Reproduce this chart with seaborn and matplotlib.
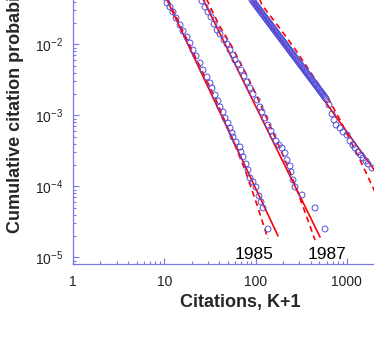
import matplotlib
matplotlib.use('Agg')
import matplotlib.pyplot as plt
import seaborn as sns
from matplotlib.ticker import FuncFormatter, LogLocator, NullFormatter, FixedLocator

# citation data (K+1, cumulative probability)
a_k = [9.92, 10.71, 11.55, 12.45, 13.44, 14.86, 16.03, 17.73, 19.12, 20.63, 22.25, 24.60, 26.54,
       29.36, 31.66, 33.31, 35.93, 38.74, 40.74, 43.96, 46.22, 49.86, 52.44, 55.15, 56.56,
       61.00, 67.47, 69.20, 72.78, 78.51, 82.57, 86.83, 93.64, 101.0, 108.9, 114.6, 120.5, 136.7]
a_p = [0.0464, 0.03817, 0.03352, 0.02850, 0.02346, 0.01869, 0.01539, 0.01267, 0.01043, 0.008313,
       0.006842, 0.005452, 0.004345, 0.003462, 0.002851, 0.002424, 0.001932, 0.001590, 0.001309,
       0.001113, 0.000916, 0.000779, 0.000662, 0.000563, 0.000495, 0.000421, 0.000358, 0.000304,
       0.000259, 0.000206, 0.000170, 0.000131, 0.000115, 9.77e-5, 7.30e-5, 6.01e-5, 4.95e-5, 2.50e-5]

b_k = [25.87, 27.91, 30.10, 32.47, 35.03, 37.78, 40.74, 45.07, 48.62, 52.44, 56.56, 59.48, 64.16,
       69.20, 74.65, 80.52, 86.83, 93.64, 103.6, 111.7, 117.5, 126.8, 136.7, 147.5, 155.1, 167.3,
       180.4, 194.6, 209.9, 220.8, 238.2, 244.2, 256.8, 270.1, 322.3, 447.4, 575.6]
b_p = [0.04073, 0.03352, 0.02850, 0.02424, 0.01931, 0.01590, 0.01397, 0.01150, 0.01010, 0.008313,
       0.007066, 0.006009, 0.005279, 0.004345, 0.003576, 0.002944, 0.002424, 0.001995, 0.001642,
       0.001309, 0.001113, 0.000916, 0.000730, 0.000601, 0.000511, 0.000434, 0.000382, 0.000346,
       0.000294, 0.000235, 0.000193, 0.000159, 0.000123, 9.77e-5, 7.54e-5, 4.95e-5, 2.50e-5]

c_k = [86.8, 91.3, 96.1, 101.0, 106.2, 111.7, 117.5, 123.6, 130.0, 136.7, 143.8, 151.2, 159.0,
       167.3, 175.9, 185.1, 194.6, 204.7, 215.3, 226.4, 238.2, 250.5, 263.4, 277.1, 291.4, 306.5,
       322.3, 338.9, 356.5, 374.9, 394.3, 414.7, 436.2, 458.7, 482.5, 507.5, 533.7, 561.3, 590.4,
       636.8, 686.9, 722.4, 759.7, 840.4, 906.7, 1002.6, 1081.4, 1166.6, 1226.7, 1323.0, 1427.0,
       1500.8, 1619.0, 1702.3, 1883.0]
c_p = [0.0464, 0.04206, 0.03853, 0.03542, 0.03245, 0.02973, 0.02733, 0.02504, 0.02294, 0.02108,
       0.01931, 0.01769, 0.01626, 0.01490, 0.01365, 0.01255, 0.01150, 0.01053, 0.009681, 0.008869,
       0.008126, 0.007467, 0.006842, 0.006268, 0.005762, 0.005279, 0.004836, 0.004445, 0.004073,
       0.003731, 0.003429, 0.003142, 0.002878, 0.002646, 0.002424, 0.002221, 0.002041, 0.001870,
       0.001713, 0.001397, 0.001043, 0.000859, 0.000730, 0.000662, 0.000582, 0.000528, 0.000434,
       0.000382, 0.000346, 0.000304, 0.000276, 0.000250, 0.000227, 0.000206, 0.000181]
# the third set is very dense at the top: more of its points
c2_k = [93.64, 98.50, 103.6, 108.9, 114.6, 120.5, 126.8, 133.3, 140.2, 147.5, 155.1, 163.1, 171.5,
        180.4, 189.7, 199.6, 209.9, 220.8, 232.2, 244.2, 256.8, 270.1, 284.0, 298.8, 314.3, 330.5,
        347.6, 365.6, 384.5, 404.4, 425.3, 447.4, 470.6, 494.9, 520.5, 547.3, 575.6]
c2_p = [0.04028, 0.03694, 0.03388, 0.03109, 0.02850, 0.02615, 0.02398, 0.02199, 0.02017, 0.01849,
        0.01697, 0.01556, 0.01427, 0.01309, 0.01200, 0.01101, 0.01010, 0.009261, 0.008497,
        0.007789, 0.007145, 0.006553, 0.006009, 0.005510, 0.005054, 0.004637, 0.004251, 0.003900,
        0.003576, 0.003280, 0.003010, 0.002759, 0.002530, 0.002321, 0.002129, 0.001953, 0.001791]

# power-law fits (solid) and fits with cutoff (dashed)
a_fit_k = [8.97, 175.9]
a_fit_p = [0.0684, 2.0e-5]
a_cut_k = [8.97, 10.98, 20.11, 36.85, 55.15, 76.55, 103.6, 136.7]
a_cut_p = [0.0730, 0.0421, 0.00831, 0.00164, 0.000479, 0.000170, 5.45e-5, 1.81e-5]

b_fit_k = [22.25, 507.5]
b_fit_p = [0.0684, 1.93e-5]
b_cut_k = [23.99, 29.36, 39.72, 53.78, 72.78, 93.64, 120.5, 147.5, 209.9, 284.0, 447.4]
b_cut_p = [0.0684, 0.0421, 0.01869, 0.00977, 0.004637, 0.002424, 0.001187, 0.000662,
           0.000235, 8.87e-5, 1.75e-5]

c_fit_k = [76.55, 2615]
c_fit_p = [0.0582, 1.043e-4]
c_cut_k = [98.5, 117.5, 163.1, 220.8, 284.0, 365.6, 470.6, 620.9, 840.4, 1081, 1392, 1702, 1981, 2423]
c_cut_p = [0.0621, 0.03576, 0.02061, 0.01227, 0.00779, 0.00479, 0.002944, 0.001752, 0.000859,
           0.000449, 0.000235, 0.000135, 8.87e-5, 5.28e-5]

year_labels = ['1985', '1987']
year_k = [97.3, 597.9]
year_p = [9.46e-6, 9.46e-6]

sns.set_style('white')
plt.rcParams['font.family'] = ['Liberation Sans', 'DejaVu Sans']
plt.rcParams['axes.unicode_minus'] = False
plt.rcParams['mathtext.default'] = 'regular'

axis_col = '#7878e8'
dot_col = '#5050dc'
fit_col = '#ff0000'

fig = plt.figure(figsize=(3.74, 3.48), dpi=100)
ax = fig.add_axes([0.1952, 0.2405, 0.8545, 1.0402])
ax.set_xscale('log')
ax.set_yscale('log')

for fk, fp, ck, cp in [(a_fit_k, a_fit_p, a_cut_k, a_cut_p),
                       (b_fit_k, b_fit_p, b_cut_k, b_cut_p),
                       (c_fit_k, c_fit_p, c_cut_k, c_cut_p)]:
    sns.lineplot(x=fk, y=fp, ax=ax, color=fit_col, lw=1.2, estimator=None, sort=False, zorder=2)
    sns.lineplot(x=ck, y=cp, ax=ax, color=fit_col, lw=1.2, estimator=None, sort=False,
                 zorder=2).lines[-1].set_dashes((3.5, 2.5))

for k, p in [(a_k, a_p), (b_k, b_p), (c_k, c_p), (c2_k, c2_p)]:
    sns.scatterplot(x=k, y=p, ax=ax, marker='o', s=18, facecolors='none',
                    edgecolors=dot_col, linewidths=0.7, zorder=3)

for lab, k, p in zip(year_labels, year_k, year_p):
    ax.text(k, p, lab, ha='center', va='baseline', fontsize=12.5, color='black')

ax.set_xlim(1, 3162.3)
ax.set_ylim(7.96e-6, 1)

for side in ['top', 'right']:
    ax.spines[side].set_visible(False)
for side in ['left', 'bottom']:
    ax.spines[side].set_color(axis_col)
    ax.spines[side].set_linewidth(0.9)

ax.xaxis.set_major_locator(FixedLocator([1, 10, 100, 1000]))
ax.xaxis.set_minor_locator(LogLocator(base=10, subs=range(2, 10), numticks=20))
ax.xaxis.set_major_formatter(FuncFormatter(lambda v, _: f'{v:g}'))
ax.xaxis.set_minor_formatter(NullFormatter())
ax.yaxis.set_major_locator(FixedLocator([1e-5, 1e-4, 1e-3, 1e-2]))
ax.yaxis.set_minor_locator(LogLocator(base=10, subs=range(2, 10), numticks=20))
ax.yaxis.set_minor_formatter(NullFormatter())

ax.tick_params(which='both', direction='in', color=axis_col, width=0.8,
               bottom=True, left=True, top=False, right=False,
               labelcolor='#222222', labelsize=10)
ax.tick_params(which='major', length=4.5)
ax.tick_params(which='minor', length=2.5)
ax.tick_params(axis='x', pad=8)
ax.tick_params(axis='y', pad=7)
ax.grid(False)

ax.set_xlabel('Citations, K+1', fontsize=13, fontweight='bold')
ax.set_ylabel('Cumulative citation probability', fontsize=13, fontweight='bold')
ax.xaxis.set_label_coords(0.5225, -0.082)
ax.yaxis.set_label_coords(-0.153, 0.4497)

fig.savefig('out.png', dpi=100)
